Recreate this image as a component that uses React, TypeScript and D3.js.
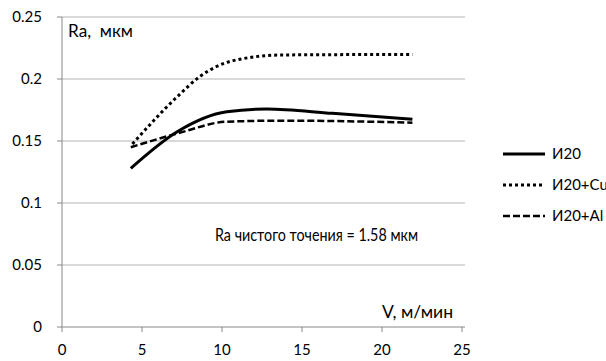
import React from "react";
import * as d3 from "d3";

const xTicks = [0, 5, 10, 15, 20, 25];
const yTicks = [0, 0.05, 0.1, 0.15, 0.2, 0.25];
const yTickLabels = ["0", "0.05", "0.1", "0.15", "0.2", "0.25"];

const seriesNames = ["И20", "И20+Cu", "И20+Al"];
const v_I20 = [4.3, 7.2, 10.3, 12.8, 16.9, 21.9];
const ra_I20 = [0.128, 0.1575, 0.1736, 0.1758, 0.1723, 0.1675];
const v_Cu = [4.4, 7.2, 8.6, 10.7, 13.8, 21.9];
const ra_Cu = [0.1476, 0.1857, 0.2018, 0.2148, 0.2194, 0.2198];
const v_Al = [4.3, 7.2, 10.3, 13.8, 21.9];
const ra_Al = [0.145, 0.156, 0.1656, 0.1664, 0.1648];

const W = 606;
const H = 361;
const FONT = "Lato, 'Open Sans', sans-serif";

export default function App() {
  const x = d3.scaleLinear().domain([0, 25]).range([62, 462]);
  const y = d3.scaleLinear().domain([0, 0.25]).range([327, 17]);
  const line = d3
    .line<[number, number]>()
    .x((d) => x(d[0]))
    .y((d) => y(d[1]))
    .curve(d3.curveMonotoneX);

  const series = [
    { v: v_I20, r: ra_I20, dash: undefined as string | undefined, w: 3 },
    { v: v_Cu, r: ra_Cu, dash: "3 3", w: 3 },
    { v: v_Al, r: ra_Al, dash: "7 3", w: 2.5 },
  ];

  return (
    <svg
      width={W}
      height={H}
      style={{ position: "absolute", left: 0, top: 0, background: "#fff" }}
      fontFamily={FONT}
    >
      {/* gridlines */}
      {yTicks.slice(1).map((t) => (
        <line key={t} x1={x(0)} x2={465} y1={y(t)} y2={y(t)} stroke="#b3b3b3" strokeWidth={1} />
      ))}
      {/* y axis */}
      <line x1={x(0)} x2={x(0)} y1={y(0.25)} y2={y(0)} stroke="#888" strokeWidth={1} />
      {yTicks.map((t, i) => (
        <g key={t}>
          <line x1={x(0) - 5} x2={x(0)} y1={y(t)} y2={y(t)} stroke="#888" />
          <text x={x(0) - 20} y={y(t)} dy="0.35em" textAnchor="end" fontSize={15} fill="#000">
            {yTickLabels[i]}
          </text>
        </g>
      ))}
      {/* x axis */}
      <line x1={x(0)} x2={x(25) + 3} y1={y(0)} y2={y(0)} stroke="#888" strokeWidth={1} />
      {xTicks.map((t) => (
        <g key={t}>
          <line x1={x(t)} x2={x(t)} y1={y(0)} y2={y(0) + 5} stroke="#888" />
          <text x={x(t)} y={y(0) + 28} textAnchor="middle" fontSize={15} fill="#000">
            {t}
          </text>
        </g>
      ))}
      {/* series */}
      {series.map((s, i) => (
        <path
          key={i}
          d={line(s.v.map((v, j) => [v, s.r[j]] as [number, number])) || ""}
          fill="none"
          stroke="#000"
          strokeWidth={s.w}
          strokeDasharray={s.dash}
        />
      ))}
      {/* annotations */}
      <text x={68} y={37} fontSize={17} fill="#000" style={{ whiteSpace: "pre" }} textLength={65} lengthAdjust="spacingAndGlyphs">Ra,  мкм</text>
      <text x={382} y={318} fontSize={17} fill="#000" textLength={71} lengthAdjust="spacingAndGlyphs">V, м/мин</text>
      <text x={215} y={241} fontSize={17} fill="#000" textLength={203} lengthAdjust="spacingAndGlyphs">Ra чистого точения = 1.58 мкм</text>
      {/* legend */}
      {series.map((s, i) => {
        const ly = 154 + i * 31;
        return (
          <g key={i}>
            <line x1={503} x2={545} y1={ly} y2={ly} stroke="#000" strokeWidth={s.w} strokeDasharray={s.dash} />
            <text x={552} y={ly} dy="0.35em" fontSize={15} fill="#000">
              {seriesNames[i]}
            </text>
          </g>
        );
      })}
    </svg>
  );
}
